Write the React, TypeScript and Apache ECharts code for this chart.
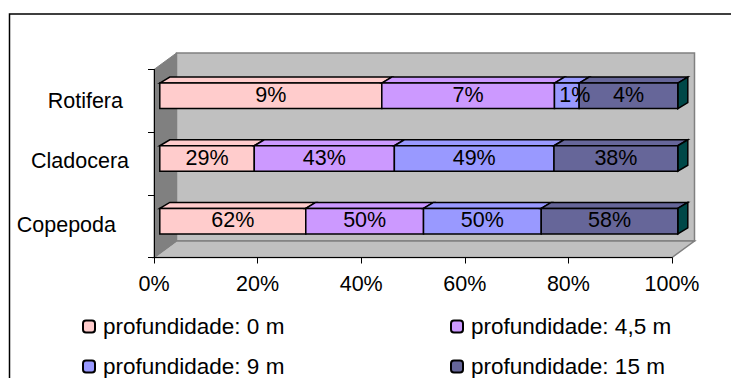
import React, { useEffect, useRef } from "react";
import * as echarts from "echarts";

const categories = ["Copepoda", "Cladocera", "Rotifera"];
const depthNames = [
  "profundidade: 0 m",
  "profundidade: 4,5 m",
  "profundidade: 9 m",
  "profundidade: 15 m",
];
const depth0 = [62, 29, 9];
const depth45 = [50, 43, 7];
const depth9 = [50, 49, 1];
const depth15 = [58, 38, 4];
const depthValues = [depth0, depth45, depth9, depth15];
const depthColors = ["#FFCCCC", "#CC99FF", "#9999FF", "#666699"];
const tickValues = [0, 20, 40, 60, 80, 100];

const FONT = "Liberation Sans";
const FONT_SIZE = 21.5;
const LEGEND_FONT_SIZE = 22.5;
const INK = "#000000";
const DEPTH_X = 22.5;
const DEPTH_Y = 16.5;
const BAR_DX = 10;
const BAR_DY = 6;
const BAR_OFFSET_X = 5.8;
const BAR_OFFSET_Y = -5;
const BAR_HEIGHT = 25.5;

// Category labels step to the left towards the bottom of the axis.
const categoryLabelPadding: Record<string, number[]> = {
  Copepoda: [0, 13, 2, 0],
  Cladocera: [0, 0, 6, 0],
  Rotifera: [0, 6, 0, 0],
};

// Cumulative shares per category, so each bar fills the full 100% width.
const totals = categories.map((_, c) => depthValues.reduce((s, v) => s + v[c], 0));
function segment(seriesIndex: number, c: number) {
  let before = 0;
  for (let i = 0; i < seriesIndex; i++) before += depthValues[i][c];
  const raw = depthValues[seriesIndex][c];
  return [c, (before / totals[c]) * 100, ((before + raw) / totals[c]) * 100, raw];
}

// Back wall, side wall and floor of the pseudo-3D box, sized from the grid.
function renderWalls(params: any) {
  const { x, y, width: w, height: h } = params.coordSys;
  const wall = { fill: "#C0C0C0", stroke: "#808080", lineWidth: 1.5 };
  return {
    type: "group",
    children: [
      {
        type: "polygon",
        shape: { points: [[x + DEPTH_X, y - DEPTH_Y], [x + w + DEPTH_X, y - DEPTH_Y], [x + w + DEPTH_X, y + h - DEPTH_Y], [x + DEPTH_X, y + h - DEPTH_Y]] },
        style: wall,
      },
      {
        type: "polygon",
        shape: { points: [[x, y + h], [x + DEPTH_X, y + h - DEPTH_Y], [x + w + DEPTH_X, y + h - DEPTH_Y], [x + w, y + h]] },
        style: wall,
      },
      {
        type: "polygon",
        shape: { points: [[x, y], [x + DEPTH_X, y - DEPTH_Y], [x + DEPTH_X, y + h - DEPTH_Y], [x, y + h]] },
        style: { fill: "#808080", stroke: "#808080", lineWidth: 1 },
      },
    ],
  };
}

function barRenderer(seriesIndex: number) {
  return (_params: any, api: any) => {
    const c = api.value(0);
    const start = api.coord([api.value(1), c]);
    const end = api.coord([api.value(2), c]);
    const left = start[0] + BAR_OFFSET_X;
    const right = end[0] + BAR_OFFSET_X;
    const top = start[1] + BAR_OFFSET_Y - BAR_HEIGHT / 2;
    const bottom = top + BAR_HEIGHT;
    const fill = depthColors[seriesIndex];
    const edge = { stroke: INK, lineWidth: 1.5, lineJoin: "miter" };
    const children: any[] = [
      {
        type: "polygon",
        shape: { points: [[left, top], [left + BAR_DX, top - BAR_DY], [right + BAR_DX, top - BAR_DY], [right, top]] },
        style: { fill, ...edge },
      },
    ];
    if (seriesIndex === depthValues.length - 1) {
      children.push({
        type: "polygon",
        shape: { points: [[right, top], [right + BAR_DX, top - BAR_DY], [right + BAR_DX, bottom - BAR_DY], [right, bottom]] },
        style: { fill: "#004848", ...edge },
      });
    }
    children.push({
      type: "rect",
      shape: { x: left, y: top, width: right - left, height: BAR_HEIGHT },
      style: { fill, ...edge },
    });
    return { type: "group", children };
  };
}

// Value labels go in their own layer above every bar, as the narrow 1% spills over its neighbour.
function labelRenderer(_params: any, api: any) {
  const c = api.value(0);
  const from = api.coord([api.value(1), c]);
  const to = api.coord([api.value(2), c]);
  const width = to[0] - from[0];
  const nudge = width < 30 ? 8 : 0;
  return {
    type: "text",
    x: (from[0] + to[0]) / 2 + BAR_OFFSET_X + nudge,
    y: from[1] + BAR_OFFSET_Y - 1,
    style: {
      text: `${api.value(3)}%`,
      fill: INK,
      font: `${FONT_SIZE}px "${FONT}"`,
      align: "center",
      verticalAlign: "middle",
    },
  };
}

const allSegments = depthValues.flatMap((_, s) => categories.map((__, c) => segment(s, c)));

const legendSlots = [
  { left: 82, top: 315 },
  { left: 450, top: 315 },
  { left: 82, top: 355 },
  { left: 450, top: 355 },
];

export default function App() {
  const ref = useRef<HTMLDivElement>(null);
  useEffect(() => {
    const chart = echarts.init(ref.current!, undefined, { renderer: "svg" });
    chart.setOption({
      animation: false,
      backgroundColor: "#FFFFFF",
      textStyle: { fontFamily: FONT },
      graphic: [
        {
          type: "polyline",
          z: 1,
          shape: { points: [[9.5, 378], [9.5, 14], [731, 14]] },
          style: { stroke: INK, lineWidth: 1.5, fill: "none" },
        },
      ],
      grid: { left: 154, top: 69.5, width: 518, height: 188 },
      xAxis: {
        type: "value",
        min: 0,
        max: 100,
        interval: 20,
        splitLine: { show: false },
        axisLine: { show: true, lineStyle: { color: INK, width: 1 } },
        axisTick: { show: true, length: 6, lineStyle: { color: INK } },
        axisLabel: {
          color: INK,
          fontSize: FONT_SIZE,
          margin: 15,
          customValues: tickValues,
          formatter: (v: number) => `${v}%`,
        },
        z: 5,
      },
      yAxis: {
        type: "category",
        data: categories,
        axisLine: { show: true, lineStyle: { color: INK, width: 1 } },
        axisTick: { show: true, length: 6, alignWithLabel: false, lineStyle: { color: INK } },
        axisLabel: {
          color: INK,
          fontSize: FONT_SIZE,
          margin: 25,
          formatter: (v: string) => `{${v}|${v}}`,
          rich: Object.fromEntries(
            categories.map((name) => [
              name,
              { color: INK, fontSize: FONT_SIZE, padding: categoryLabelPadding[name] },
            ]),
          ),
        },
        z: 5,
      },
      legend: depthNames.map((name, i) => ({
        data: [name],
        left: legendSlots[i].left,
        top: legendSlots[i].top,
        itemWidth: 12,
        itemHeight: 12,
        itemGap: 0,
        padding: 0,
        selectedMode: false,
        textStyle: { color: INK, fontSize: LEGEND_FONT_SIZE, padding: [0, 0, 0, 3] },
        itemStyle: { borderColor: INK, borderWidth: 2 },
      })),
      series: [
        {
          type: "custom",
          silent: true,
          z: 1,
          coordinateSystem: "cartesian2d",
          renderItem: renderWalls,
          data: [[0, 0]],
          encode: { x: 0, y: 1 },
          tooltip: { show: false },
        },
        ...depthNames.map((name, s) => ({
          type: "custom",
          name,
          z: 2,
          coordinateSystem: "cartesian2d",
          renderItem: barRenderer(s),
          itemStyle: { color: depthColors[s] },
          encode: { x: [1, 2], y: 0 },
          data: categories.map((_, c) => segment(s, c)),
        })),
        {
          type: "custom",
          z: 3,
          coordinateSystem: "cartesian2d",
          renderItem: labelRenderer,
          encode: { x: [1, 2], y: 0 },
          data: allSegments,
        },
      ],
    });
    return () => chart.dispose();
  }, []);
  return <div ref={ref} style={{ width: 731, height: 378, position: "fixed", left: 0, top: 0 }} />;
}
